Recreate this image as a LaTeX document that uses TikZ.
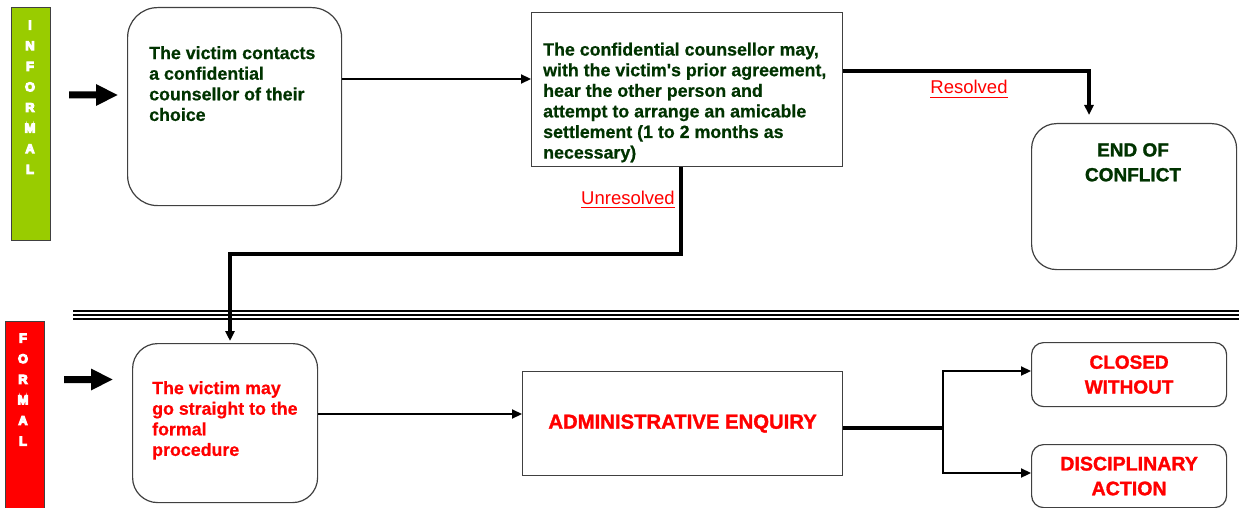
\documentclass[tikz,border=0pt]{standalone}
\usepackage{fontspec}
\setmainfont{Liberation Sans}
% heavier bold for the capital headings and the body texts
\newfontfamily\heavysans{Liberation Sans}[BoldFeatures={FakeBold=1.4}]
\newfontfamily\semiheavysans{Liberation Sans}[BoldFeatures={FakeBold=0.6}]
\usetikzlibrary{arrows.meta}
\definecolor{infgreen}{HTML}{99CC00}
\definecolor{txtgreen}{HTML}{003300}
\definecolor{frmred}{HTML}{FF0000}
\definecolor{edgegray}{HTML}{404040}
% underline with a heavier rule than \underline gives
\newcommand\undertext[1]{\setbox0\hbox{#1}\rlap{\vrule height -2.6pt depth 4.0pt width \wd0}\box0}
% letters filled and outlined, for a black-weight look
\newcommand\outlinedtext[1]{\special{pdf:literal direct 2 Tr 1.1 w}#1\special{pdf:literal direct 0 Tr 0.4 w}}

\begin{document}
\begin{tikzpicture}[x=1pt,y=-1pt,
  boxline/.style={draw=edgegray, line width=1.2pt, fill=white, inner sep=0pt},
  roundbox/.style={boxline, rounded corners=#1},
  bodytxt/.style={font=\semiheavysans\bfseries\fontsize{17.8}{20.6}\selectfont, align=left, inner sep=0pt},
  capstxt/.style={font=\heavysans\bfseries\fontsize{19}{24.8}\selectfont, align=center},
  bartxt/.style={font=\bfseries\fontsize{12.8}{20.6}\selectfont, align=center, text=white, inner sep=0pt, anchor=north},
  lbl/.style={font=\fontsize{18.5}{22}\selectfont, text=frmred, inner sep=0pt, anchor=base},
  tip/.style={-{Triangle[length=10pt,width=9pt]}},
  thinarrow/.style={line width=2.2pt, tip},
  thickline/.style={line width=3.3pt},
  bigarrow/.style={fill=black}
]
\useasboundingbox (0,0) rectangle (1239,508);

% stage bars
\node[draw=edgegray, line width=1pt, fill=infgreen, minimum width=39pt, minimum height=233pt, anchor=north west, inner sep=0pt] (infbar) at (11,7) {};
\node[bartxt] (inflbl) at (30,20.5) {\outlinedtext{I}\\\outlinedtext{N}\\\outlinedtext{F}\\\outlinedtext{O}\\\outlinedtext{R}\\\outlinedtext{M}\\\outlinedtext{A}\\\outlinedtext{L}};
\node[draw=edgegray, line width=1pt, fill=frmred, minimum width=39pt, minimum height=200pt, anchor=north west, inner sep=0pt] (frmbar) at (5,321) {};
\node[bartxt] (frmlbl) at (23,333.5) {\outlinedtext{F}\\\outlinedtext{O}\\\outlinedtext{R}\\\outlinedtext{M}\\\outlinedtext{A}\\\outlinedtext{L}};

% entry arrows
\fill[bigarrow] (69,91.5) -- (96,91.5) -- (96,84) -- (117.5,95) -- (96,106) -- (96,98.5) -- (69,98.5) -- cycle;
\fill[bigarrow] (64,376) -- (91,376) -- (91,368.5) -- (112.5,379.5) -- (91,390.5) -- (91,383) -- (64,383) -- cycle;

% separator between the informal and the formal stage
\draw[line width=1.3pt] (73,311) -- (1239,311);
\draw[line width=2.5pt] (73,315) -- (1239,315);
\draw[line width=1.2pt] (73,319) -- (1239,319);

% informal stage
\node[roundbox=30pt, minimum width=214pt, minimum height=198pt, anchor=north west] (contact) at (127,7) {};
\node[bodytxt, text=txtgreen, anchor=north west] (contacttxt) at (149,46) {The victim contacts\\a confidential\\counsellor of their\\choice};

\node[boxline, minimum width=311pt, minimum height=154pt, anchor=north west] (counsel) at (531,12) {};
\node[bodytxt, text=txtgreen, anchor=north west] (counseltxt) at (543,42.5) {The confidential counsellor may,\\with the victim's prior agreement,\\hear the other person and\\attempt to arrange an amicable\\settlement (1 to 2 months as\\necessary)};

\node[roundbox=25pt, minimum width=205pt, minimum height=146pt, anchor=north west] (endc) at (1031,123) {};
\node[capstxt, text=txtgreen, inner sep=0pt, anchor=north] (endtxt) at (1133,143) {END OF\\CONFLICT};

% formal stage
\node[roundbox=25pt, minimum width=185pt, minimum height=159pt, anchor=north west] (formal) at (132,343) {};
\node[bodytxt, text=frmred, anchor=north west] (formaltxt) at (152,381) {The victim may\\go straight to the\\formal\\procedure};

\node[boxline, capstxt, font=\heavysans\bfseries\fontsize{20.3}{24.8}\selectfont, text=frmred, minimum width=320pt, minimum height=104pt, anchor=north west] (enquiry) at (522,371) {ADMINISTRATIVE ENQUIRY};

\node[roundbox=12pt, capstxt, text=frmred, minimum width=195pt, minimum height=64pt, anchor=north west] (closed) at (1031,342) {CLOSED\\WITHOUT};
\node[roundbox=12pt, capstxt, font=\heavysans\bfseries\fontsize{19.6}{24.8}\selectfont, text=frmred, minimum width=195pt, minimum height=63pt, anchor=north west] (discip) at (1031,444) {DISCIPLINARY\\ACTION};

% connectors
\draw[thinarrow] (contact.east |- 0,79) -- (counsel.west |- 0,79);
\draw[thickline, tip, shorten >=8pt] (counsel.east |- 0,71) -| (1089,0 |- endc.north);
\node[lbl] (resolved) at (969,94) {\undertext{Resolved}};
\draw[thickline, tip, shorten >=2pt] (counsel.south -| 681,0) -- (681,254) -- (230,254) -- (230,0 |- formal.north);
\node[lbl] (unresolved) at (628,204) {\undertext{Unresolved}};

\draw[thinarrow] (formal.east |- 0,414) -- (enquiry.west |- 0,414);
\coordinate (split) at (943,428);
\draw[thickline] (enquiry.east |- split) -- (split);
\draw[thinarrow] (split) |- (closed.west |- 0,371);
\draw[thinarrow] (split) |- (discip.west |- 0,473);
\end{tikzpicture}
\end{document}
